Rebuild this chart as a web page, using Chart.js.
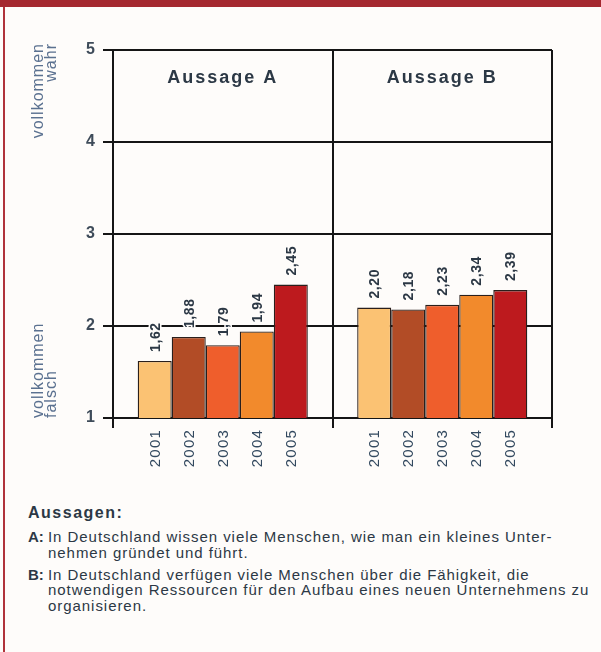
<!DOCTYPE html>
<html lang="de">
<head>
<meta charset="utf-8">
<title>Aussagen 2001-2005</title>
<script src="https://cdn.jsdelivr.net/npm/chart.js@4.4.1/dist/chart.umd.min.js"></script>
<style>
    html, body {
        margin: 0;
        padding: 0;
        background: #fefcfa;
    }
    .page {
        position: relative;
        width: 601px;
        height: 652px;
        overflow: hidden;
        font-family: "Liberation Sans", Arial, sans-serif;
        color: #2c3845;
    }
    .topbar {
        position: absolute;
        left: 0;
        top: 0;
        width: 601px;
        height: 7px;
        background: #a5282f;
    }
    .sideline {
        position: absolute;
        left: 3px;
        top: 7px;
        width: 2px;
        height: 645px;
        background: #b0323a;
    }
    #chart {
        position: absolute;
        left: 0;
        top: 0;
    }
    .notes-title {
        position: absolute;
        left: 28px;
        top: 504px;
        font-size: 16px;
        line-height: 18px;
        font-weight: bold;
        letter-spacing: 1.5px;
    }
    .notes {
        position: absolute;
        left: 28px;
        top: 529px;
        width: 570px;
        font-size: 15px;
        line-height: 15.5px;
        letter-spacing: 0.95px;
        white-space: nowrap;
    }
    .note {
        padding-left: 20px;
        text-indent: -20px;
    }
    .note + .note {
        margin-top: 6.5px;
    }
    .note b {
        display: inline-block;
        width: 20px;
        text-indent: 0;
        letter-spacing: 0;
    }
</style>
</head>
<body>
<div class="page">
    <div class="topbar"></div>
    <div class="sideline"></div>
    <canvas id="chart" width="601" height="478"></canvas>
    <div class="notes-title">Aussagen:</div>
    <div class="notes">
        <div class="note"><b>A:</b>In Deutschland wissen viele Menschen, wie man ein kleines Unter-<br>nehmen gründet und führt.</div>
        <div class="note"><b>B:</b>In Deutschland verfügen viele Menschen über die Fähigkeit, die<br>notwendigen Ressourcen für den Aufbau eines neuen Unternehmens zu<br>organisieren.</div>
    </div>
</div>
<script>
// Mittelwerte je Aussage und Jahr (Skala 1 = vollkommen falsch, 5 = vollkommen wahr)
const statements = ['Aussage A', 'Aussage B'];
const years = ['2001', '2002', '2003', '2004', '2005'];
const aussageA = [1.62, 1.88, 1.79, 1.94, 2.45];
const aussageB = [2.20, 2.18, 2.23, 2.34, 2.39];
const scaleMin = 1;
const scaleMax = 5;
const scaleEnds = { top: ['vollkommen', 'wahr'], bottom: ['vollkommen', 'falsch'] };

const yearColors = ['#fbc273', '#b24c26', '#ef5e2c', '#f28a2c', '#bd1a1e'];
const inkColor = '#2c3845';
const lineColor = '#151515';
const paperColor = '#fefcfa';

const datasets = years.map((year, i) => ({
    label: year,
    data: [aussageA[i], aussageB[i]],
    backgroundColor: yearColors[i],
    borderColor: '#2a1f1c',
    borderWidth: 1.3,
    borderSkipped: false,
    barPercentage: 1,
    categoryPercentage: 0.775
}));

function formatValue(v) {
    return v.toFixed(2).replace('.', ',');
}

// Titles, value labels, year labels and the scale end captions
const panelText = {
    id: 'panelText',
    afterDatasetsDraw(chart) {
        const ctx = chart.ctx;
        const area = chart.chartArea;
        const xScale = chart.scales.x;
        const yScale = chart.scales.y;

        ctx.save();
        ctx.fillStyle = inkColor;

        // panel titles
        ctx.font = 'bold 18px "Liberation Sans", Arial, sans-serif';
        ctx.letterSpacing = '2px';
        ctx.textAlign = 'center';
        ctx.textBaseline = 'alphabetic';
        statements.forEach((name, i) => {
            ctx.fillText(name, xScale.getPixelForValue(i), area.top + 33);
        });

        chart.data.datasets.forEach((ds, di) => {
            const meta = chart.getDatasetMeta(di);
            meta.data.forEach((bar, i) => {
                // value above the bar, rotated, with a paper-coloured halo
                ctx.save();
                ctx.translate(bar.x, bar.y - 9);
                ctx.rotate(-Math.PI / 2);
                ctx.font = 'bold 14px "Liberation Sans", Arial, sans-serif';
                ctx.letterSpacing = '0.6px';
                ctx.textAlign = 'left';
                ctx.textBaseline = 'middle';
                ctx.strokeStyle = paperColor;
                ctx.lineWidth = 3;
                ctx.lineJoin = 'round';
                ctx.strokeText(formatValue(ds.data[i]), 0, 1);
                ctx.fillText(formatValue(ds.data[i]), 0, 1);
                ctx.restore();

                // year below the axis, rotated
                ctx.save();
                ctx.translate(bar.x, area.bottom + 11);
                ctx.rotate(-Math.PI / 2);
                ctx.font = '15px "Liberation Sans", Arial, sans-serif';
                ctx.letterSpacing = '1.2px';
                ctx.textAlign = 'right';
                ctx.textBaseline = 'middle';
                ctx.fillStyle = '#33495f';
                ctx.fillText(ds.label, 0, 1);
                ctx.restore();
            });
        });

        // captions for both ends of the scale
        ctx.font = '16px "Liberation Sans", Arial, sans-serif';
        ctx.letterSpacing = '1px';
        ctx.fillStyle = '#5b7190';
        ctx.textBaseline = 'middle';
        const topY = yScale.getPixelForValue(scaleMax) - 7;
        const bottomY = yScale.getPixelForValue(scaleMin);
        scaleEnds.top.forEach((line, i) => {
            ctx.save();
            ctx.translate(39 + i * 13, topY);
            ctx.rotate(-Math.PI / 2);
            ctx.textAlign = 'right';
            ctx.fillText(line, 0, 0);
            ctx.restore();
        });
        scaleEnds.bottom.forEach((line, i) => {
            ctx.save();
            ctx.translate(39 + i * 13, bottomY);
            ctx.rotate(-Math.PI / 2);
            ctx.textAlign = 'left';
            ctx.fillText(line, 0, 0);
            ctx.restore();
        });
        ctx.restore();
    }
};

new Chart(document.getElementById('chart'), {
    type: 'bar',
    data: {
        labels: statements,
        datasets: datasets
    },
    options: {
        responsive: false,
        animation: false,
        layout: {
            padding: { left: 0, right: 49, top: 50, bottom: 0 }
        },
        scales: {
            x: {
                type: 'category',
                offset: true,
                grid: {
                    offset: true,
                    color: lineColor,
                    lineWidth: 2,
                    tickLength: 10
                },
                border: { display: true, color: lineColor, width: 2 },
                ticks: { display: false },
                afterFit(scale) { scale.height = 60; }
            },
            y: {
                min: scaleMin,
                max: scaleMax,
                ticks: {
                    stepSize: 1,
                    padding: 8,
                    color: '#3e4b59',
                    font: { family: '"Liberation Sans", Arial, sans-serif', size: 16, weight: 'bold' }
                },
                grid: {
                    color: lineColor,
                    lineWidth: 2,
                    tickLength: 10
                },
                border: { display: true, color: lineColor, width: 2 },
                afterFit(scale) { scale.width = 113; }
            }
        },
        plugins: {
            legend: { display: false },
            tooltip: { enabled: false }
        }
    },
    plugins: [panelText]
});
</script>
</body>
</html>
